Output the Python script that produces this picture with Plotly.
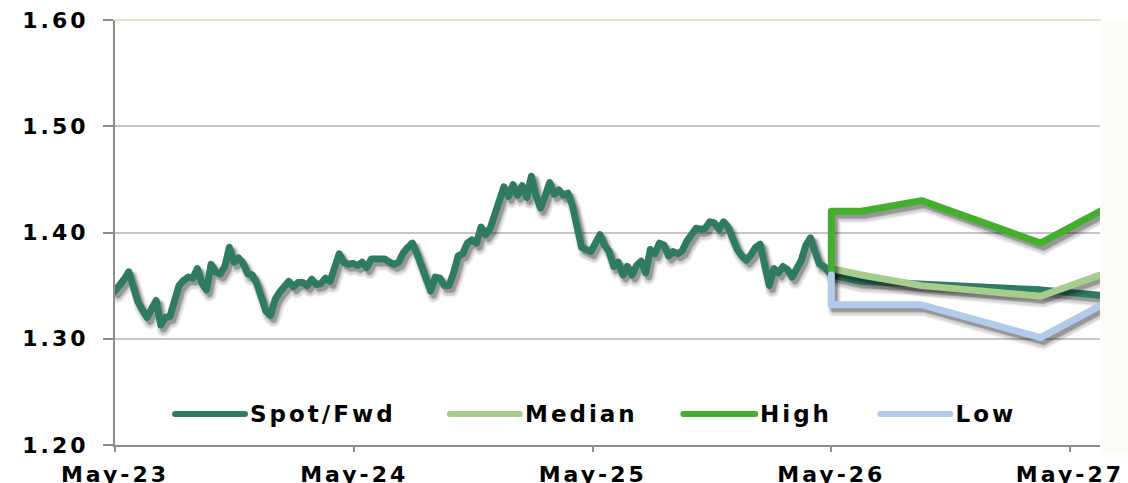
import pandas as pd
import plotly.graph_objects as go

# ---------------- data ----------------
hist_start = "2023-05-15"
spot_hist = [
    1.345, 1.350, 1.356, 1.363, 1.346, 1.335, 1.327, 1.320, 1.328, 1.336,
    1.313, 1.320, 1.321, 1.336, 1.350, 1.355, 1.358, 1.357, 1.366, 1.352,
    1.346, 1.370, 1.363, 1.361, 1.368, 1.386, 1.372, 1.376, 1.371, 1.361,
    1.360, 1.352, 1.338, 1.326, 1.322, 1.337, 1.344, 1.350, 1.354, 1.349,
    1.353, 1.353, 1.350, 1.356, 1.351, 1.352, 1.357, 1.354, 1.368, 1.380,
    1.372, 1.370, 1.371, 1.369, 1.372, 1.367, 1.375, 1.375, 1.375, 1.375,
    1.372, 1.370, 1.372, 1.381, 1.386, 1.390, 1.380, 1.367, 1.356, 1.345,
    1.358, 1.357, 1.350, 1.350, 1.362, 1.378, 1.380, 1.390, 1.393, 1.390,
    1.405, 1.398, 1.404, 1.417, 1.425, 1.443, 1.434, 1.445, 1.435, 1.444,
    1.433, 1.453, 1.435, 1.423, 1.434, 1.447, 1.436, 1.440, 1.435, 1.437,
    1.425, 1.405, 1.386, 1.384, 1.382, 1.390, 1.398, 1.388, 1.382, 1.368,
    1.372, 1.360, 1.368, 1.360, 1.369, 1.373, 1.362, 1.384, 1.380, 1.390,
    1.388, 1.378, 1.382, 1.380, 1.383, 1.392, 1.398, 1.404, 1.403, 1.404,
    1.410, 1.409, 1.403, 1.410, 1.405, 1.392, 1.384, 1.378, 1.374, 1.379,
    1.386, 1.389, 1.370, 1.350, 1.366, 1.362, 1.368, 1.365, 1.358, 1.366,
    1.374, 1.388, 1.395, 1.382, 1.370, 1.368, 1.363,
]
hist_dates = pd.date_range(hist_start, periods=len(spot_hist), freq="7D")

fc_dates = ["2026-05-15", "2026-06-30", "2026-09-30", "2027-03-31", "2027-06-30"]
fwd_values = [1.360, 1.354, 1.351, 1.346, 1.341]
median_values = [1.366, 1.360, 1.350, 1.340, 1.360]

band_dates = ["2026-05-15", "2026-05-15", "2026-06-30", "2026-09-30", "2027-03-31", "2027-06-30"]
high_values = [1.363, 1.420, 1.420, 1.430, 1.390, 1.420]
low_values = [1.360, 1.332, 1.332, 1.332, 1.301, 1.331]

tick_dates = ["2023-05-15", "2024-05-15", "2025-05-15", "2026-05-15", "2027-05-15"]
tick_labels = ["May-23", "May-24", "May-25", "May-26", "May-27"]
y_ticks = [1.20, 1.30, 1.40, 1.50, 1.60]

series_names = ["Spot/Fwd", "Median", "High", "Low"]
colors = ["#2E7A63", "#A6CD8C", "#44AE2D", "#B0CBEB"]

spot_x = [d.strftime("%Y-%m-%d") for d in hist_dates] + fc_dates
spot_y = spot_hist + fwd_values

# ---------------- figure ----------------
fig = go.Figure()
series = [(spot_x, spot_y), (fc_dates, median_values), (band_dates, high_values), (band_dates, low_values)]
for (xs, ys), name, col in zip(series, series_names, colors):
    fig.add_trace(go.Scatter(x=xs, y=ys, mode="lines", name=name, showlegend=False,
                             line=dict(color=col, width=7)))

font_family = "DejaVu Sans"
LETTER_SPACING = 3      # px, applied by css below
PLOT_W = 985            # plot-area width in px (1128 - 115 - 28)

# manual legend (long line samples like the original), in paper coordinates
legend_line_x = [(0.061, 0.132), (0.340, 0.411), (0.577, 0.650), (0.777, 0.848)]
legend_y = 0.073
shapes = []
annotations = []
for (x0, x1), name, col in zip(legend_line_x, series_names, colors):
    shapes.append(dict(type="line", xref="paper", yref="paper", x0=x0, x1=x1,
                       y0=legend_y, y1=legend_y, line=dict(color=col, width=6)))
    shift = (4 + len(name) * LETTER_SPACING / 2) / PLOT_W
    annotations.append(dict(xref="paper", yref="paper", x=x1 + shift, y=legend_y,
                            xanchor="left", yanchor="middle", showarrow=False, text=name,
                            borderpad=0,
                            font=dict(family=font_family, size=23, color="black", weight="bold")))

# very light cream strip at the right border and beige top edge, as in the original frame
shapes.append(dict(type="rect", xref="paper", yref="paper", x0=1.001, x1=1.03, y0=-0.02, y1=1.0,
                   fillcolor="#FCFBF6", line=dict(width=0), layer="below"))
shapes.append(dict(type="line", xref="paper", yref="paper", x0=0, x1=1.0, y0=1, y1=1,
                   line=dict(color="#E8E3CF", width=2)))

fig.update_layout(
    width=1128, height=483,
    margin=dict(l=115, r=28, t=20, b=38, pad=0),
    paper_bgcolor="white", plot_bgcolor="white",
    font=dict(family=font_family, size=22, color="black", weight="bold"),
    showlegend=False,
    shapes=shapes,
    annotations=annotations,
    xaxis=dict(type="date", range=["2023-05-15", "2027-06-30"], automargin=False,
               tickmode="array", tickvals=tick_dates, ticktext=tick_labels,
               showgrid=False, showline=True, linecolor="#8C8C8C", linewidth=2,
               ticks="outside", ticklen=5, tickwidth=2, tickcolor="#8C8C8C",
               ticklabelstandoff=4,
               tickfont=dict(family=font_family, size=22, color="black", weight="bold"),
               zeroline=False),
    yaxis=dict(range=[1.20, 1.60], tickmode="array", tickvals=y_ticks, automargin=False,
               tickformat=".2f", showgrid=True, gridcolor="#C6C6C6", gridwidth=2,
               showline=True, linecolor="#8C8C8C", linewidth=2,
               ticks="outside", ticklen=10, tickwidth=2, tickcolor="#8C8C8C",
               ticklabelstandoff=10,
               tickfont=dict(family=font_family, size=22, color="black", weight="bold"),
               zeroline=False),
)

# soft drop shadow under the data lines (visual only: cloned, offset, translucent strokes)
post = """
(function(){
  var gd = document.querySelector('.js-plotly-plot');
  var layers = [[14, 0.06, 3, 5], [11, 0.10, 3, 5], [8, 0.16, 3, 4], [6, 0.16, 3, 4]];
  function addShadow(){
    var svg = document.querySelector('.js-plotly-plot svg.main-svg');
    if (!svg) return;
    svg.querySelectorAll('path.shadowclone').forEach(function(c){ c.remove(); });
    svg.querySelectorAll('.scatterlayer .trace path.js-line').forEach(function(p){
      p.style.strokeLinejoin = 'round';
      p.style.strokeLinecap = 'round';
      layers.forEach(function(L){
        var c = p.cloneNode(false);
        c.setAttribute('class', 'shadowclone');
        c.style.stroke = '#000000';
        c.style.strokeOpacity = L[1];
        c.style.strokeWidth = L[0] + 'px';
        c.style.strokeLinejoin = 'round';
        c.style.strokeLinecap = 'round';
        c.setAttribute('transform', 'translate(' + L[2] + ',' + L[3] + ')');
        p.parentNode.insertBefore(c, p);
      });
    });
  }
  var s = document.createElement('style');
  s.textContent = '.xtick text,.ytick text,.annotation-text{letter-spacing:3px;}' +
                  '.shapelayer path{stroke-linecap:round;}';
  document.head.appendChild(s);
  addShadow();
  if (gd && gd.on) gd.on('plotly_afterplot', addShadow);
})();
"""
fig.write_html("out.html", post_script=post)
